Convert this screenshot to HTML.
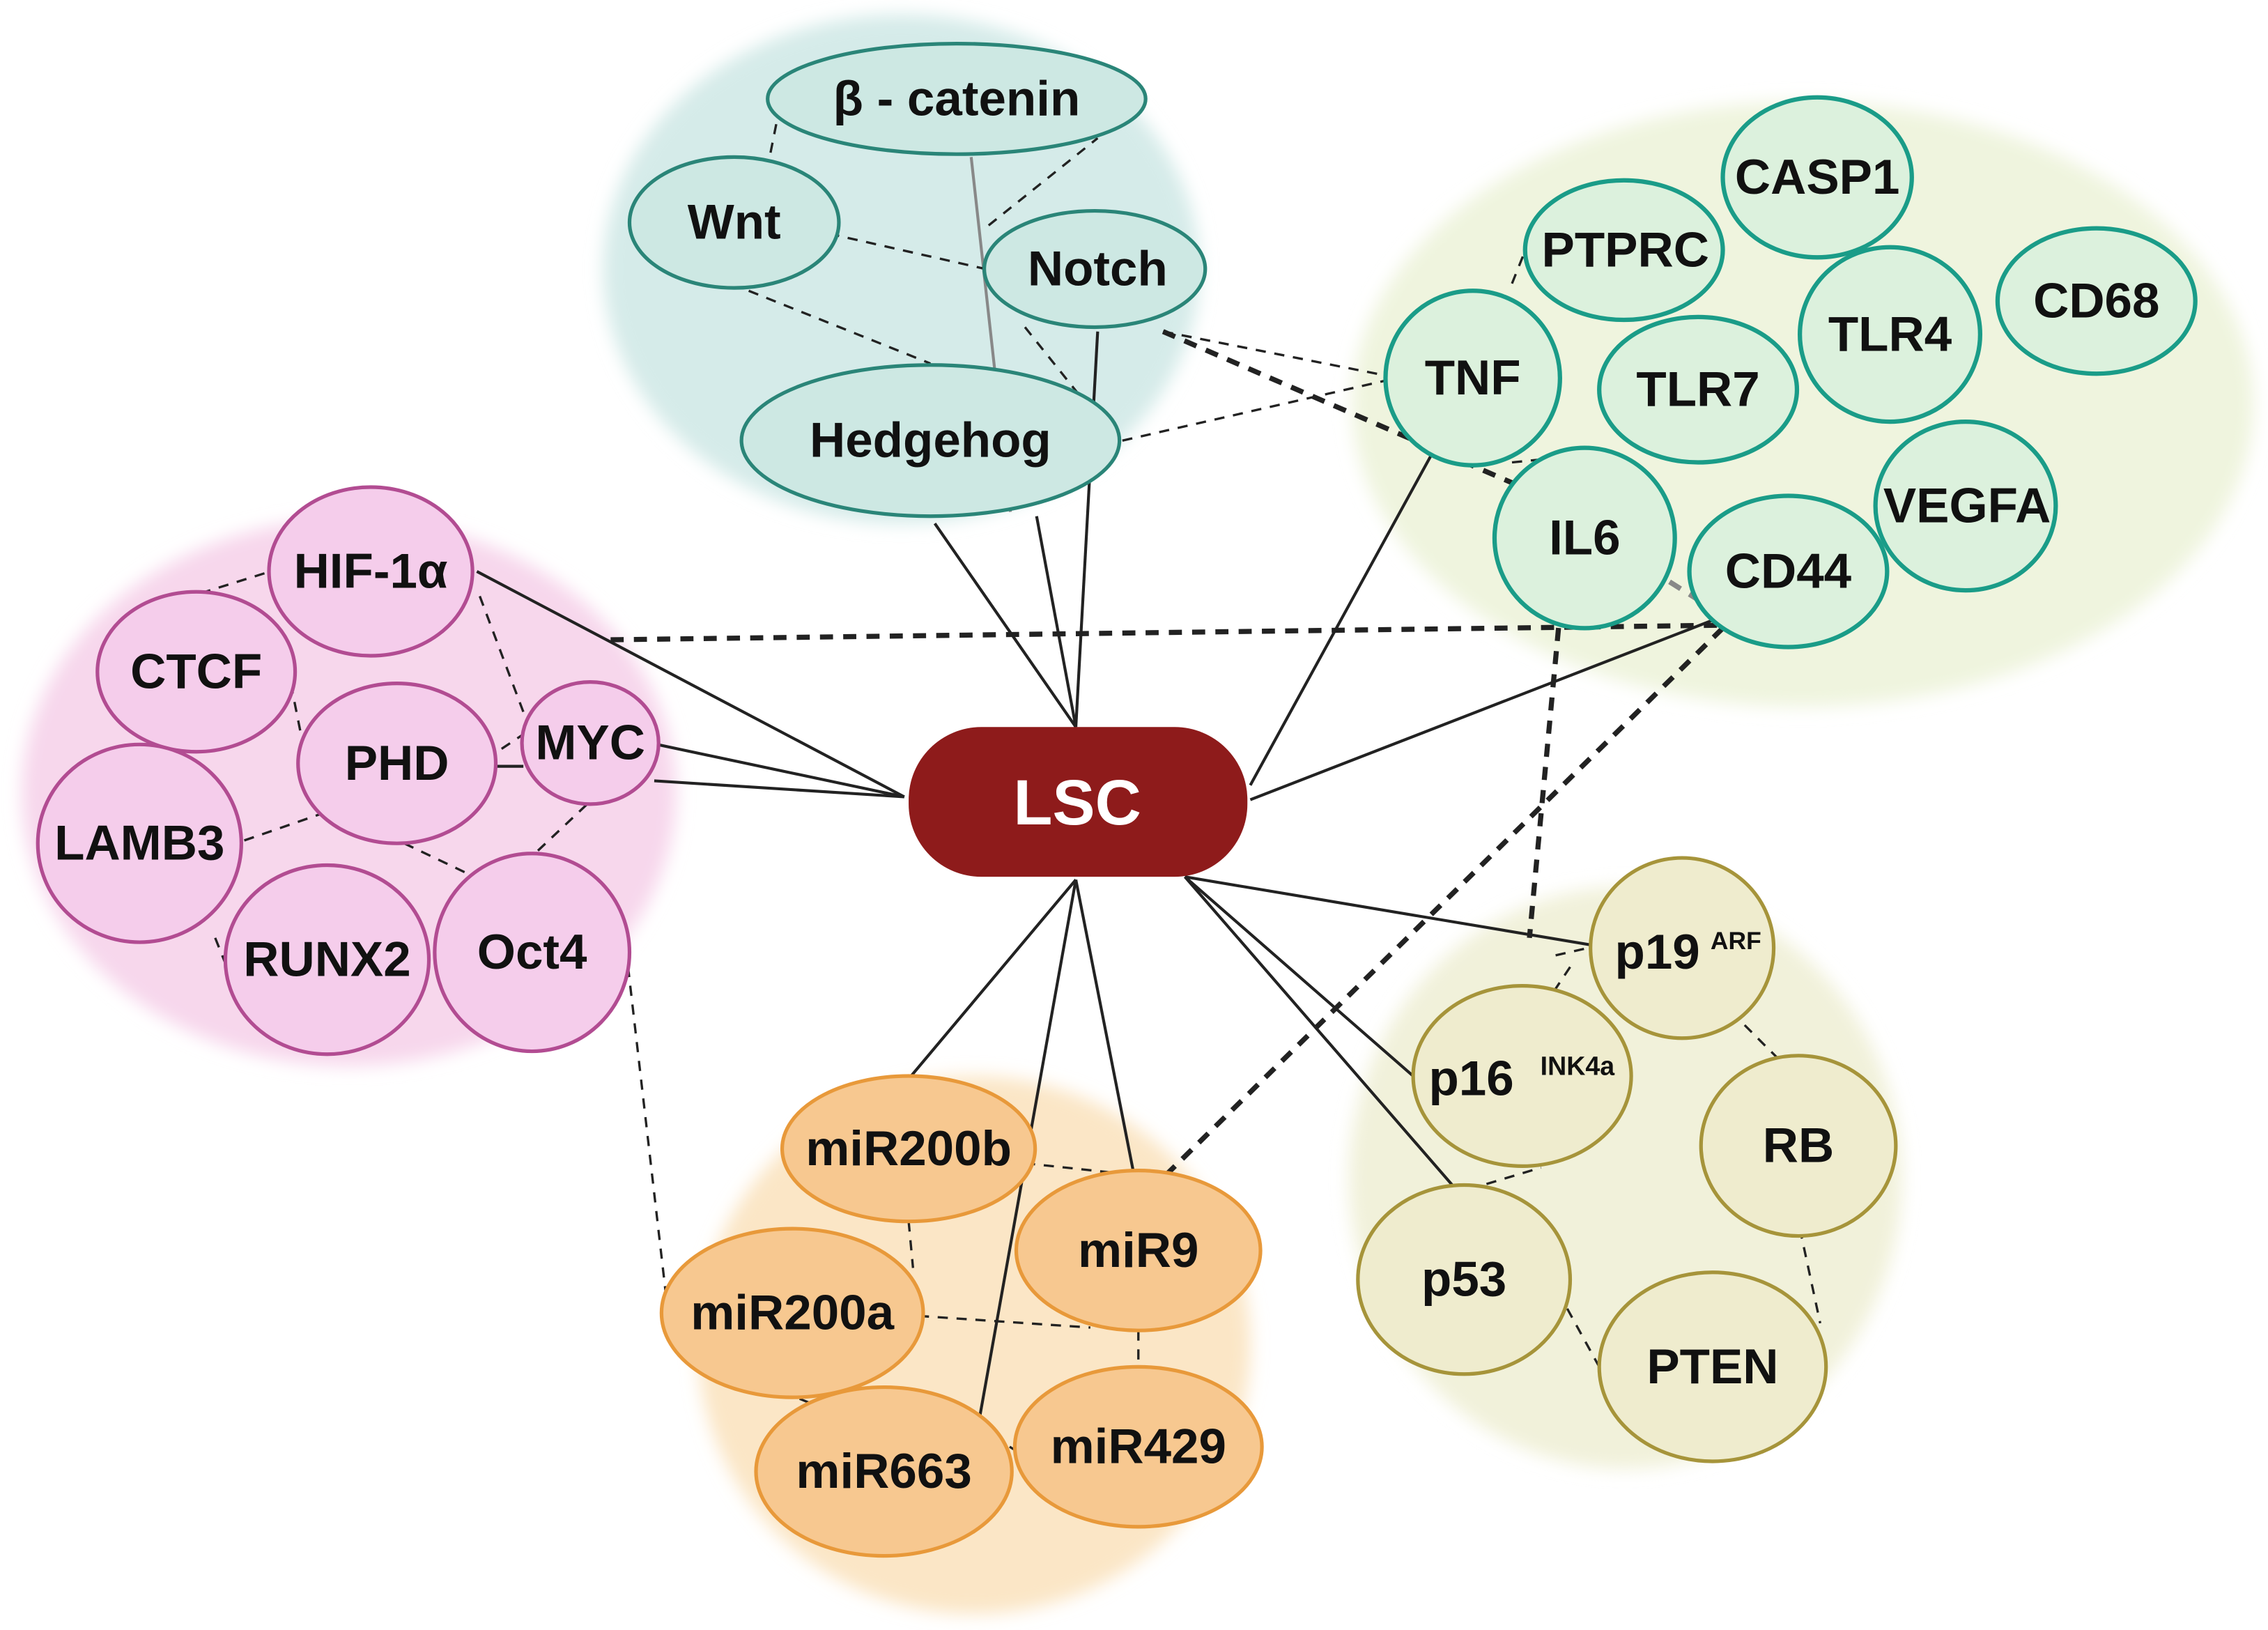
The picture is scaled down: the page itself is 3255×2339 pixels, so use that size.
<!DOCTYPE html>
<html><head><meta charset="utf-8"><style>html,body{margin:0;padding:0;background:#fff}svg{display:block}text{font-family:"Liberation Sans",sans-serif;font-weight:bold;text-anchor:middle;dominant-baseline:central}</style></head><body>
<svg width="3255" height="2339" viewBox="0 0 1560 1121" preserveAspectRatio="none" xmlns="http://www.w3.org/2000/svg">
<defs>
<filter id="b" x="-20%" y="-20%" width="140%" height="140%"><feGaussianBlur stdDeviation="6"/></filter>
</defs>
<g filter="url(#b)">
<ellipse cx="620" cy="185" rx="205" ry="175" fill="#d5ebe9"/>
<ellipse cx="1240" cy="278" rx="310" ry="208" fill="#eff4de"/>
<ellipse cx="240" cy="545" rx="225" ry="188" fill="#f7d7ec"/>
<ellipse cx="670" cy="925" rx="190" ry="185" fill="#fbe6c6"/>
<ellipse cx="1118" cy="810" rx="190" ry="200" fill="#f1f1da"/>
</g>
<g stroke="#222" stroke-width="2" fill="none">
<line x1="643" y1="360" x2="740" y2="500"/>
<line x1="755" y1="228" x2="740" y2="500"/>
<line x1="713" y1="355" x2="740" y2="500"/>
<line x1="985" y1="312" x2="860" y2="540"/>
<line x1="1182" y1="425" x2="860" y2="550"/>
<line x1="328" y1="393" x2="622" y2="548"/>
<line x1="452" y1="512" x2="622" y2="548"/>
<line x1="450" y1="537" x2="622" y2="548"/>
<line x1="340" y1="527" x2="360" y2="527"/>
<line x1="740" y1="605" x2="625" y2="742"/>
<line x1="740" y1="605" x2="672" y2="985"/>
<line x1="740" y1="605" x2="780" y2="808"/>
<line x1="815" y1="603" x2="1095" y2="650"/>
<line x1="815" y1="603" x2="972" y2="740"/>
<line x1="815" y1="603" x2="1005" y2="822"/>
</g>
<line x1="668" y1="108" x2="695" y2="352" stroke="#888" stroke-width="2"/>
<g stroke="#222" stroke-width="1.6" fill="none" stroke-dasharray="7,6">
<line x1="530" y1="105" x2="535" y2="80"/>
<line x1="680" y1="155" x2="755" y2="95"/>
<line x1="545" y1="155" x2="678" y2="185"/>
<line x1="515" y1="200" x2="640" y2="250"/>
<line x1="705" y1="225" x2="745" y2="275"/>
<line x1="800" y1="228" x2="952" y2="258"/>
<line x1="772" y1="303" x2="952" y2="262"/>
<line x1="1040" y1="195" x2="1052" y2="165"/>
<line x1="1040" y1="318" x2="1070" y2="315"/>
<line x1="138" y1="408" x2="186" y2="393"/>
<line x1="330" y1="410" x2="362" y2="495"/>
<line x1="200" y1="470" x2="208" y2="510"/>
<line x1="168" y1="578" x2="220" y2="560"/>
<line x1="345" y1="515" x2="360" y2="505"/>
<line x1="278" y1="580" x2="320" y2="600"/>
<line x1="370" y1="585" x2="405" y2="552"/>
<line x1="148" y1="645" x2="156" y2="665"/>
<line x1="432" y1="665" x2="458" y2="890"/>
<line x1="705" y1="800" x2="780" y2="808"/>
<line x1="625" y1="840" x2="628" y2="872"/>
<line x1="632" y1="905" x2="750" y2="913"/>
<line x1="783" y1="915" x2="783" y2="940"/>
<line x1="550" y1="962" x2="620" y2="990"/>
<line x1="650" y1="968" x2="785" y2="1050"/>
<line x1="1070" y1="657" x2="1092" y2="652"/>
<line x1="1080" y1="665" x2="1070" y2="680"/>
<line x1="1200" y1="705" x2="1225" y2="730"/>
<line x1="1010" y1="818" x2="1060" y2="803"/>
<line x1="1238" y1="845" x2="1252" y2="910"/>
<line x1="1078" y1="900" x2="1100" y2="940"/>
</g>
<g stroke="#222" stroke-width="3.5" fill="none" stroke-dasharray="9,7">
<line x1="420" y1="440" x2="1182" y2="430"/>
<line x1="1185" y1="432" x2="800" y2="810"/>
<line x1="1075" y1="400" x2="1052" y2="645"/>
<line x1="800" y1="228" x2="1040" y2="332"/>
</g>
<line x1="1040" y1="332" x2="1180" y2="420" stroke="#888" stroke-width="3.5" stroke-dasharray="9,7"/>
<g fill="#cde8e3" stroke="#2a8578" stroke-width="2.5">
<ellipse cx="658" cy="68" rx="130" ry="38"/>
<ellipse cx="505" cy="153" rx="72" ry="45"/>
<ellipse cx="753" cy="185" rx="76" ry="40"/>
<ellipse cx="640" cy="303" rx="130" ry="52"/>
</g>
<g fill="#dcf1dd" stroke="#1a9c88" stroke-width="3">
<ellipse cx="1250" cy="122" rx="65" ry="55"/>
<ellipse cx="1117" cy="172" rx="68" ry="48"/>
<ellipse cx="1442" cy="207" rx="68" ry="50"/>
<ellipse cx="1300" cy="230" rx="62" ry="60"/>
<ellipse cx="1013" cy="260" rx="60" ry="60"/>
<ellipse cx="1168" cy="268" rx="68" ry="50"/>
<ellipse cx="1352" cy="348" rx="62" ry="58"/>
<ellipse cx="1090" cy="370" rx="62" ry="62"/>
<ellipse cx="1230" cy="393" rx="68" ry="52"/>
</g>
<g fill="#f5cdeb" stroke="#b24c92" stroke-width="2.5">
<ellipse cx="255" cy="393" rx="70" ry="58"/>
<ellipse cx="135" cy="462" rx="68" ry="55"/>
<ellipse cx="273" cy="525" rx="68" ry="55"/>
<ellipse cx="406" cy="511" rx="47" ry="42"/>
<ellipse cx="96" cy="580" rx="70" ry="68"/>
<ellipse cx="225" cy="660" rx="70" ry="65"/>
<ellipse cx="366" cy="655" rx="67" ry="68"/>
</g>
<g fill="#f7c890" stroke="#e8993a" stroke-width="2.5">
<ellipse cx="625" cy="790" rx="87" ry="50"/>
<ellipse cx="783" cy="860" rx="84" ry="55"/>
<ellipse cx="545" cy="903" rx="90" ry="58"/>
<ellipse cx="783" cy="995" rx="85" ry="55"/>
<ellipse cx="608" cy="1012" rx="88" ry="58"/>
</g>
<g fill="#efecce" stroke="#a6943a" stroke-width="2.5">
<ellipse cx="1157" cy="652" rx="63" ry="62"/>
<ellipse cx="1047" cy="740" rx="75" ry="62"/>
<ellipse cx="1237" cy="788" rx="67" ry="62"/>
<ellipse cx="1007" cy="880" rx="73" ry="65"/>
<ellipse cx="1178" cy="940" rx="78" ry="65"/>
</g>
<rect x="625" y="500" width="233" height="103" rx="50" fill="#8e1b1b"/>
<text x="741" y="552" fill="#fff" font-size="44">LSC</text>
<g fill="#111" font-size="34">
<text x="658" y="68">β - catenin</text>
<text x="505" y="153">Wnt</text>
<text x="755" y="185">Notch</text>
<text x="640" y="303">Hedgehog</text>
<text x="1250" y="122">CASP1</text>
<text x="1118" y="172">PTPRC</text>
<text x="1442" y="207">CD68</text>
<text x="1300" y="230">TLR4</text>
<text x="1013" y="260">TNF</text>
<text x="1168" y="268">TLR7</text>
<text x="1353" y="348">VEGFA</text>
<text x="1090" y="370">IL6</text>
<text x="1230" y="393">CD44</text>
<text x="255" y="393">HIF-1α</text>
<text x="135" y="462">CTCF</text>
<text x="273" y="525">PHD</text>
<text x="406" y="511">MYC</text>
<text x="96" y="580">LAMB3</text>
<text x="225" y="660">RUNX2</text>
<text x="366" y="655">Oct4</text>
<text x="625" y="790">miR200b</text>
<text x="783" y="860">miR9</text>
<text x="545" y="903">miR200a</text>
<text x="783" y="995">miR429</text>
<text x="608" y="1012">miR663</text>
<text x="1140" y="655">p19</text>
<text x="1194" y="647" font-size="17">ARF</text>
<text x="1012" y="742">p16</text>
<text x="1085" y="733" font-size="18">INK4a</text>
<text x="1237" y="788">RB</text>
<text x="1007" y="880">p53</text>
<text x="1178" y="940">PTEN</text>
</g>
</svg>
</body></html>
